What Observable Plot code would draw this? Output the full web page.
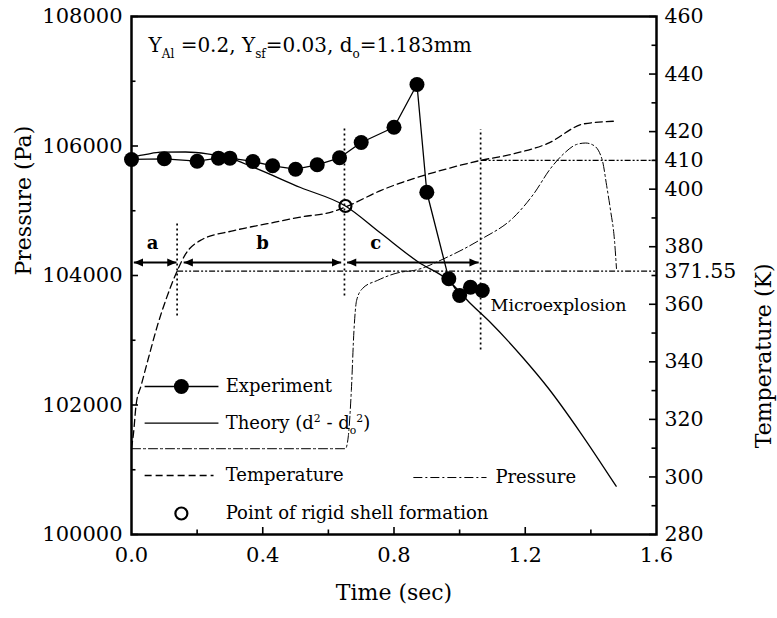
<!DOCTYPE html>
<html>
<head>
<meta charset="utf-8">
<script src="https://cdn.jsdelivr.net/npm/d3@7"></script>
<script src="https://cdn.jsdelivr.net/npm/@observablehq/plot@0.6"></script>
<style>
html, body { margin: 0; padding: 0; background: #fff; }
#chart svg { display: block; }
</style>
</head>
<body>
<div id="chart"></div>
<script>
// ---------------- data ----------------
const expTime = [0, 0.1, 0.2, 0.265, 0.3, 0.37, 0.43, 0.5, 0.566, 0.634, 0.7, 0.8, 0.87, 0.9, 0.967, 1.0, 1.033, 1.069];
const expValue = [105792, 105802, 105765, 105812, 105812, 105761, 105694, 105642, 105710, 105818, 106054, 106290, 106950, 105286, 103949, 103691, 103819, 103768];

const theoryTime = [0, 0.045, 0.088, 0.165, 0.231, 0.302, 0.369, 0.515, 0.652, 0.759, 0.875, 0.966, 1.033, 1.094, 1.195, 1.271, 1.368, 1.477];
const theoryValue = [105827, 105870, 105904, 105907, 105880, 105807, 105676, 105359, 105073, 104655, 104205, 103923, 103568, 103274, 102718, 102255, 101575, 100746];

const shellTime = [0.652];
const shellValue = [105073];

const tempTime = [0, 0.006, 0.014, 0.030, 0.058, 0.079, 0.104, 0.139, 0.165, 0.21, 0.312, 0.414, 0.515, 0.617, 0.652, 0.759, 0.962, 1.064, 1.165, 1.267, 1.379, 1.47];
const tempKelvin = [310, 315, 325, 332, 344, 352.6, 361.3, 371.55, 377.5, 382.2, 385.6, 388, 390.3, 392.3, 393.8, 399.5, 407.1, 410, 412.3, 415.8, 422.7, 423.6];

const presTime = [0, 0.652, 0.661, 0.67, 0.678, 0.686, 0.704, 0.749, 0.82, 0.86, 0.962, 1.064, 1.165, 1.226, 1.277, 1.318, 1.356, 1.384, 1.409, 1.435, 1.448, 1.46, 1.472, 1.478];
const presPa = [101325, 101325, 101529, 102224, 103151, 103614, 103799, 103923, 104051, 104077, 104283, 104556, 104900, 105262, 105652, 105884, 106023, 106046, 106008, 105776, 105390, 105004, 104541, 104108];

const refKelvin = [371.55, 410];
const refStartTime = [0.139, 1.064];

const markerTime = [0.139, 0.649, 1.064];
const markerLow = [103382, 103691, 102857];
const markerHigh = [104803, 106317, 106263];

const phaseLabel = ["a", "b", "c"];
const phaseStart = [0.007, 0.159, 0.657];
const phaseEnd = [0.137, 0.639, 1.058];
const phaseLabelTime = [0.064, 0.399, 0.744];
const phaseArrowValue = 104201;
const phaseLabelValue = 104494;

const xTickLabels = [0, 0.4, 0.8, 1.2, 1.6];
const xMajorTicks = [0.4, 0.8, 1.2];
const xMinorTicks = [0.2, 0.6, 1.0, 1.4];
const pTickLabels = [100000, 102000, 104000, 106000, 108000];
const pMinorTicks = [101000, 103000, 105000, 107000];
const tTickLabels = [280, 300, 320, 340, 360, 371.55, 380, 400, 410, 420, 440, 460];
const tMajorTicks = [280, 300, 320, 340, 360, 380, 400, 420, 440, 460];
const tMinorTicks = [290, 310, 330, 350, 370, 390, 410, 430, 450];

const annotationText = "YAl =0.2, Ysf=0.03, do=1.183mm";
const legendLabels = ["Experiment", "Theory (d2 - do2)", "Temperature", "Pressure", "Point of rigid shell formation"];
const microLabel = "Microexplosion";

// ---------------- helpers ----------------
const FONT = "DejaVu Serif";
const tToP = T => 100000 + (T - 280) * 8000 / 180;
const pToT = P => 280 + (P - 100000) * 180 / 8000;

const expData = expTime.map((t, i) => ({t, v: expValue[i]}));
const theoryData = theoryTime.map((t, i) => ({t, v: theoryValue[i]}));
const shellData = shellTime.map((t, i) => ({t, v: shellValue[i]}));
const tempData = tempTime.map((t, i) => ({t, v: tToP(tempKelvin[i])}));
const presData = presTime.map((t, i) => ({t, v: presPa[i]}));
const refData = refKelvin.map((k, i) => ({t0: refStartTime[i], t1: 1.6, v: tToP(k)}));
const markerData = markerTime.map((t, i) => ({t, lo: markerLow[i], hi: markerHigh[i]}));
const phaseData = phaseLabel.map((l, i) => ({l, t0: phaseStart[i], t1: phaseEnd[i], tl: phaseLabelTime[i]}));

// arrowhead symbols (tip at anchor)
const headRight = {draw(ctx, size) { const r = Math.sqrt(size / Math.PI); ctx.moveTo(0, 0); ctx.lineTo(-2.3 * r, -r); ctx.lineTo(-2.3 * r, r); ctx.closePath(); }};
const headLeft = {draw(ctx, size) { const r = Math.sqrt(size / Math.PI); ctx.moveTo(0, 0); ctx.lineTo(2.3 * r, -r); ctx.lineTo(2.3 * r, r); ctx.closePath(); }};

// legend layout (in data units)
const legX0 = 0.04, legX1 = 0.265, legMid = 0.152, legText = 0.287;
const legRowExp = 102286, legRowTheory = 101719, legRowTemp = 100911, legRowShell = 100324;
const legPresX0 = 0.859, legPresX1 = 1.082, legPresText = 1.109, legRowPres = 100880;

const TX = 0.0213, TXm = 0.0137; // tick lengths in x units (~7px, ~4.5px)
const TY = 108, TYm = 70;        // tick lengths in y units

const plot = Plot.plot({
  width: 777,
  height: 618,
  marginTop: 16,
  marginRight: 121,
  marginBottom: 84,
  marginLeft: 131,
  x: {domain: [0, 1.6]},
  y: {domain: [100000, 108000]},
  style: {fontFamily: FONT, background: "white", color: "black"},
  marks: [
    // axes (labels)
    Plot.axisX(xTickLabels, {tickSize: 0, tickPadding: 13, tickFormat: d3.format(".1f"), fontSize: 21, fontFamily: FONT, label: null}),
    Plot.axisY(pTickLabels, {anchor: "left", tickSize: 0, tickPadding: 9, tickFormat: d => String(d), fontSize: 21, fontFamily: FONT, label: null}),
    Plot.axisY(tTickLabels.map(tToP), {anchor: "right", tickSize: 0, tickPadding: 8, tickFormat: d => String(+pToT(d).toFixed(2)), fontSize: 20.5, fontFamily: FONT, label: null}),
    // inward ticks
    Plot.ruleY(pTickLabels, {y: d => d, x1: 0, x2: TX, strokeWidth: 1.6}),
    Plot.ruleY(pMinorTicks, {y: d => d, x1: 0, x2: TXm, strokeWidth: 1.6}),
    Plot.ruleY(tMajorTicks.map(tToP), {y: d => d, x1: 1.6 - TX, x2: 1.6, strokeWidth: 1.6}),
    Plot.ruleY(tMinorTicks.map(tToP), {y: d => d, x1: 1.6 - TXm, x2: 1.6, strokeWidth: 1.6}),
    Plot.ruleX(xMajorTicks, {x: d => d, y1: 100000, y2: 100000 + TY, strokeWidth: 1.6}),
    Plot.ruleX(xMinorTicks, {x: d => d, y1: 100000, y2: 100000 + TYm, strokeWidth: 1.6}),
    Plot.frame({stroke: "black", strokeWidth: 2.5}),
    // axis titles
    Plot.text(["Pressure (Pa)"], {frameAnchor: "left", dx: -108, rotate: -90, fontSize: 22, fontFamily: FONT}),
    Plot.text(["Temperature (K)"], {frameAnchor: "right", dx: 107, dy: -12, rotate: -90, fontSize: 22, fontFamily: FONT}),
    Plot.text(["Time (sec)"], {frameAnchor: "bottom", dy: 65, fontSize: 22, fontFamily: FONT}),
    // reference lines
    Plot.link(refData, {x1: "t0", x2: "t1", y1: "v", y2: "v", stroke: "black", strokeWidth: 1.2, strokeDasharray: "6,2,2,2,2,2"}),
    Plot.link(markerData, {x1: "t", x2: "t", y1: "lo", y2: "hi", stroke: "black", strokeWidth: 1.7, strokeDasharray: "2,3"}),
    // phase arrows
    Plot.link(phaseData, {x1: "t0", x2: "t1", y1: () => phaseArrowValue, y2: () => phaseArrowValue, stroke: "black", strokeWidth: 2}),
    Plot.dot(phaseData, {x: "t0", y: () => phaseArrowValue, symbol: headLeft, r: 4, fill: "black"}),
    Plot.dot(phaseData, {x: "t1", y: () => phaseArrowValue, symbol: headRight, r: 4, fill: "black"}),
    Plot.text(phaseData, {x: "tl", y: () => phaseLabelValue, text: "l", fontSize: 18, fontWeight: "bold", fontFamily: FONT}),
    // curves
    Plot.line(presData, {x: "t", y: "v", stroke: "black", strokeWidth: 1, strokeDasharray: "9,3,2,3", curve: "monotone-x"}),
    Plot.line(tempData, {x: "t", y: "v", stroke: "black", strokeWidth: 1.3, strokeDasharray: "7,4", curve: "monotone-x"}),
    Plot.line(theoryData, {x: "t", y: "v", stroke: "black", strokeWidth: 1.3, curve: "monotone-x"}),
    Plot.line(expData, {x: "t", y: "v", stroke: "black", strokeWidth: 1.3}),
    Plot.dot(expData, {x: "t", y: "v", r: 7.5, fill: "black"}),
    Plot.dot(shellData, {x: "t", y: "v", r: 6, stroke: "black", strokeWidth: 2.2, fill: "none"}),
    // annotations
    Plot.text([annotationText], {x: () => 0.052, y: () => 107552, textAnchor: "start", fontSize: 20, fontFamily: FONT}),
    Plot.text([microLabel], {x: () => 1.094, y: () => 103537, textAnchor: "start", fontSize: 17.5, fontFamily: FONT}),
    // legend
    Plot.link([0], {x1: () => legX0, x2: () => legX1, y1: () => legRowExp, y2: () => legRowExp, stroke: "black", strokeWidth: 1.3}),
    Plot.dot([0], {x: () => legMid, y: () => legRowExp, r: 7.5, fill: "black"}),
    Plot.link([0], {x1: () => legX0, x2: () => legX1, y1: () => legRowTheory, y2: () => legRowTheory, stroke: "black", strokeWidth: 1.3}),
    Plot.link([0], {x1: () => legX0, x2: () => 0.25, y1: () => legRowTemp, y2: () => legRowTemp, stroke: "black", strokeWidth: 1.3, strokeDasharray: "7,4"}),
    Plot.dot([0], {x: () => legMid, y: () => legRowShell, r: 6, stroke: "black", strokeWidth: 2.2, fill: "none"}),
    Plot.link([0], {x1: () => legPresX0, x2: () => legPresX1, y1: () => legRowPres, y2: () => legRowPres, stroke: "black", strokeWidth: 1, strokeDasharray: "9,3,2,3"}),
    Plot.text([legendLabels[0], legendLabels[1], legendLabels[2], legendLabels[4]], {
      x: () => legText,
      y: (d, i) => [legRowExp, legRowTheory, legRowTemp, legRowShell][i],
      textAnchor: "start", fontSize: 18, fontFamily: FONT
    }),
    Plot.text([legendLabels[3]], {x: () => legPresText, y: () => legRowPres, textAnchor: "start", fontSize: 18, fontFamily: FONT})
  ]
});

document.getElementById("chart").appendChild(plot);

// rich text (sub/superscripts)
function rich(node, parts, fs) {
  node.textContent = "";
  let shift = 0;
  for (const p of parts) {
    const ts = document.createElementNS("http://www.w3.org/2000/svg", "tspan");
    const target = p.sub ? 0.3 * fs : p.sup ? -0.38 * fs : 0;
    const dy = target - shift;
    if (dy !== 0) ts.setAttribute("dy", dy);
    shift = target;
    if (p.sub || p.sup) ts.setAttribute("font-size", 0.6 * fs);
    ts.textContent = p.t;
    node.appendChild(ts);
  }
}
d3.select(plot).selectAll("text").each(function () {
  const s = this.textContent;
  if (s === annotationText) {
    rich(this, [{t: "Y"}, {t: "Al", sub: 1}, {t: " =0.2, Y"}, {t: "sf", sub: 1}, {t: "=0.03, d"}, {t: "o", sub: 1}, {t: "=1.183mm"}], 20);
  } else if (s === legendLabels[1]) {
    rich(this, [{t: "Theory (d"}, {t: "2", sup: 1}, {t: " - d"}, {t: "o", sub: 1}, {t: "2", sup: 1}, {t: ")"}], 18);
  }
});
</script>
</body>
</html>
